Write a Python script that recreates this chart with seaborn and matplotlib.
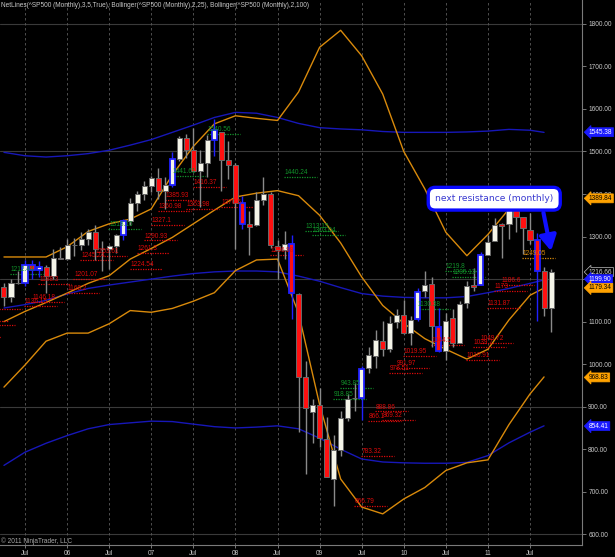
import numpy as np
import pandas as pd
import matplotlib
matplotlib.use('Agg')
import matplotlib.pyplot as plt
import matplotlib.transforms as mtransforms
import seaborn as sns

# monthly ^SP500 bars, Apr 2005 .. Oct 2011 (index 0 = Apr 2005)
aOpen = [1180.6, 1156.9, 1191.5, 1191.3, 1234.2, 1220.3, 1228.8, 1207.0, 1249.5,
         1248.3, 1280.1, 1280.7, 1294.9, 1310.6, 1270.1, 1270.2, 1276.7, 1303.8, 1335.9, 1377.9, 1400.6,
         1418.3, 1438.2, 1406.8, 1420.9, 1482.4, 1530.6, 1503.4, 1455.3, 1474.0, 1526.8, 1545.8, 1481.1,
         1468.4, 1378.6, 1330.5, 1326.4, 1386.0, 1399.6, 1276.7, 1269.4, 1282.8, 1164.2, 968.7, 888.6,
         903.0, 823.1, 729.6, 797.9, 872.7, 919.9, 920.8, 990.2, 1019.5, 1054.9, 1036.2, 1098.9,
         1116.6, 1073.9, 1105.4, 1171.2, 1188.6, 1087.3, 1031.1, 1107.5, 1049.7, 1143.5, 1185.7, 1186.6,
         1257.6, 1289.1, 1328.6, 1329.5, 1365.2, 1345.2, 1315.9, 1292.6, 1219.1, 1131.2]
aHigh = [1191.9, 1199.6, 1219.6, 1245.2, 1245.9, 1243.1, 1233.3, 1270.6, 1275.8,
         1294.9, 1297.6, 1310.9, 1318.2, 1326.7, 1290.7, 1280.4, 1306.7, 1340.3, 1389.5, 1407.9, 1431.8,
         1441.6, 1461.6, 1438.9, 1498.0, 1535.6, 1540.6, 1555.9, 1503.9, 1538.7, 1576.1, 1545.8, 1523.6,
         1471.8, 1396.0, 1359.7, 1404.0, 1440.2, 1404.1, 1292.2, 1313.2, 1303.0, 1167.0, 1007.5, 918.9,
         943.9, 875.0, 833.0, 888.7, 930.2, 956.2, 996.7, 1039.5, 1080.2, 1101.4, 1113.7, 1130.4,
         1150.5, 1112.4, 1180.2, 1219.8, 1205.1, 1131.2, 1121.0, 1129.2, 1148.9, 1196.1, 1227.1, 1262.6,
         1302.7, 1344.1, 1332.3, 1370.6, 1370.6, 1345.2, 1356.5, 1307.4, 1229.3, 1224.0]
aLow = [1136.2, 1146.2, 1188.3, 1183.6, 1201.1, 1205.4, 1168.2, 1201.1, 1246.6,
        1245.7, 1253.6, 1268.0, 1280.7, 1245.3, 1219.3, 1224.5, 1261.3, 1290.9, 1327.1, 1361.0, 1385.9,
        1404.0, 1389.4, 1364.0, 1416.4, 1476.7, 1484.2, 1454.3, 1370.6, 1439.3, 1489.6, 1406.1, 1435.7,
        1270.1, 1316.8, 1257.0, 1324.4, 1373.1, 1272.0, 1200.4, 1247.5, 1106.4, 839.8, 741.0, 815.7,
        804.2, 734.5, 666.8, 783.3, 866.1, 888.9, 869.3, 978.5, 992.0, 1020.0, 1029.4, 1085.9,
        1071.6, 1044.5, 1101.4, 1157.0, 1040.8, 1028.3, 1010.9, 1039.7, 1049.7, 1131.9, 1173.0, 1186.6,
        1257.6, 1289.1, 1249.1, 1294.7, 1311.8, 1258.1, 1282.9, 1101.5, 1114.2, 1074.8]
aClose = [1156.9, 1191.5, 1191.3, 1234.2, 1220.3, 1228.8, 1207.0, 1249.5, 1248.3,
          1280.1, 1280.7, 1294.9, 1310.6, 1270.1, 1270.2, 1276.7, 1303.8, 1335.9, 1377.9, 1400.6, 1418.3,
          1438.2, 1406.8, 1420.9, 1482.4, 1530.6, 1503.4, 1455.3, 1474.0, 1526.8, 1549.4, 1481.1, 1468.4,
          1378.6, 1330.6, 1322.7, 1385.6, 1400.4, 1280.0, 1267.4, 1282.8, 1166.4, 968.8, 896.2, 903.3,
          825.9, 735.1, 797.9, 872.8, 919.1, 919.3, 987.5, 1020.6, 1057.1, 1036.2, 1095.6, 1115.1,
          1073.9, 1104.5, 1169.4, 1186.7, 1089.4, 1030.7, 1101.6, 1049.3, 1141.2, 1183.3, 1180.6, 1257.6,
          1286.1, 1327.2, 1325.8, 1363.6, 1345.2, 1320.6, 1292.3, 1219.0, 1131.4, 1216.7]
# bars drawn with a blue outline
aFlagged = [3, 4, 5, 17, 24, 30, 34, 41, 51, 59, 62, 68, 76]

# Bollinger bands
aBand_index = list(range(0, 76, 3)) + [77]
aBB100_upper = [1498, 1490, 1487, 1490, 1495, 1503, 1515, 1528, 1545, 1562, 1580, 1592, 1590, 1580,
                1566, 1556, 1553, 1551, 1547, 1545, 1545, 1545, 1546, 1548, 1552, 1550, 1545]
aBB100_middle = [1132, 1140, 1150, 1165, 1178, 1186, 1193, 1200, 1207, 1213, 1217, 1219, 1219, 1217,
                 1207, 1195, 1180, 1166, 1160, 1157, 1156, 1156, 1159, 1168, 1178, 1190, 1198]
aBB100_lower = [762, 793, 814, 832, 848, 858, 862, 866, 865, 859, 853, 850, 852, 855,
                848, 826, 800, 777, 770, 768, 767, 767, 769, 785, 815, 840, 855]
aBB25_upper = [1252, 1252, 1252, 1276, 1312, 1330, 1341, 1365, 1445, 1512, 1565, 1584, 1578, 1573,
               1640, 1745, 1785, 1725, 1635, 1500, 1412, 1310, 1255, 1305, 1365, 1385, 1390]
aBB25_middle = [1100, 1124, 1145, 1167, 1190, 1208, 1247, 1272, 1298, 1330, 1362, 1393, 1402, 1408,
                1396, 1350, 1285, 1205, 1138, 1096, 1060, 1035, 1012, 1035, 1104, 1162, 1179]
aBB25_lower = [946, 998, 1054, 1073, 1073, 1095, 1126, 1122, 1131, 1148, 1168, 1220, 1245, 1247,
               1120, 905, 730, 664, 648, 683, 710, 750, 768, 775, 858, 930, 970]

# NetLines: bar of the pivot and its price
aSupport_origin = [-8, -7, -6, -5, 0, 1, 2, 6, 7, 8, 10, 15, 16, 17, 18, 19, 20, 23, 24, 28, 35,
                   47, 48, 49, 50, 51, 52, 53, 54, 58, 63, 64, 65, 66, 67, 68]
aSupport_value = [1063, 1101, 1091, 1130, 1136.15, 1146.18, 1188.3, 1168.2, 1201.07, 1245.74, 1253.61,
                  1224.54, 1261.3, 1290.93, 1327.1, 1360.98, 1385.93, 1363.98, 1416.37, 1370.6, 1256.98,
                  666.79, 783.32, 866.1, 888.86, 869.32, 978.51, 991.97, 1019.95, 1044.5, 1010.91,
                  1039.7, 1049.72, 1131.87, 1173, 1186.6]
aResist_origin = [-2, 12, 21, 26, 37, 40, 41, 44, 45, 56, 60, 61]
aResist_value = [1212.44, 1318.16, 1441.61, 1540.56, 1440.24, 1313.15, 1303.04, 918.85, 943.85,
                 1130.38, 1219.8, 1205.13]
aActive_origin = [71]
aActive_value = [1249.05]

# right axis price markers
aMarker_value = [1545.38, 1389.84, 1216.66, 1199.90, 1179.34, 968.83, 854.41]
aMarker_kind = ['bb100', 'bb25', 'close', 'bb100', 'bb25', 'bb25', 'bb100']

aTick_index = list(range(3, 76, 6))
aTick_label = ['Jul', '06', 'Jul', '07', 'Jul', '08', 'Jul', '09', 'Jul', '10', 'Jul', '11', 'Jul']
aGrid_level = [600, 900, 1200, 1500, 1800]

sns.set_theme(style='dark', rc={'axes.facecolor': 'black', 'figure.facecolor': 'black'})
plt.rcParams['font.family'] = ['Liberation Sans', 'DejaVu Sans']

sColor_orange = '#d98a0b'
sColor_blue = '#1717b8'
sColor_red = '#dd0a0a'
sColor_green = '#11922a'
small = 4.7

fig = plt.figure(figsize=(6.15, 5.57), dpi=100)
fig.patch.set_facecolor('black')
ax = fig.add_axes([0, 12 / 557, 582 / 615, 545 / 557])
ax.set_facecolor('black')

nBar = len(aClose)
aIndex = np.arange(nBar)

# grid
for level in aGrid_level:
    ax.axhline(level, color='#3a3a3a', lw=0.8, zorder=0)
for i in aTick_index:
    ax.axvline(i, color='#5a5a5a', lw=0.6, ls=(0, (3, 3)), zorder=0)

# bollinger bands
df_band = pd.DataFrame({'bar': aBand_index,
                        'u100': aBB100_upper, 'm100': aBB100_middle, 'l100': aBB100_lower,
                        'u25': aBB25_upper, 'm25': aBB25_middle, 'l25': aBB25_lower})
for col in ['u100', 'm100', 'l100']:
    sns.lineplot(data=df_band, x='bar', y=col, color=sColor_blue, lw=1.0, ax=ax, zorder=2)
for col in ['u25', 'm25', 'l25']:
    sns.lineplot(data=df_band, x='bar', y=col, color=sColor_orange, lw=1.0, ax=ax, zorder=2)

# netlines (start 3 bars after the pivot, 5 bars long)
def draw_netlines(aOrigin, aValue, sColor):
    for o, v in zip(aOrigin, aValue):
        x0 = o + 3
        ax.hlines(v, x0 - 0.1, x0 + 4.6, colors=sColor, lw=0.9, linestyles=(0, (1, 1)), zorder=3)
        if x0 >= 0:  # labels of older pivots sit left of the chart
            ax.text(x0, v + 2, '%g' % v, color=sColor, fontsize=small, ha='left', va='bottom',
                    zorder=6, clip_on=True)

draw_netlines(aSupport_origin, aSupport_value, sColor_red)
draw_netlines(aResist_origin, aResist_value, sColor_green)
draw_netlines(aActive_origin, aActive_value, sColor_orange)

# candles
aOpen_a = np.array(aOpen)
aClose_a = np.array(aClose)
aBottom = np.minimum(aOpen_a, aClose_a)
aHeight = np.abs(aClose_a - aOpen_a)
aFill = np.where(aClose_a >= aOpen_a, '#f4f4e8', '#ff1010')
aEdge = np.array(['#6a6a6a'] * nBar, dtype=object)
aWick = np.array(['#8a8a8a'] * nBar, dtype=object)
aWidth = np.full(nBar, 0.7)
for i in aFlagged:
    aEdge[i] = '#2020ff'
    aWick[i] = '#2020ff'
    aWidth[i] = 1.3
ax.vlines(aIndex, aLow, aHigh, colors=list(aWick), lw=1.0, zorder=4)
ax.bar(aIndex, aHeight, bottom=aBottom, width=0.72, color=list(aFill),
       edgecolor=list(aEdge), linewidth=list(aWidth), zorder=5)

ax.set_xlim(-0.565, 82.41)
ax.set_ylim(574.8, 1856.2)

# axes, ticks
ax.yaxis.tick_right()
ax.set_yticks(range(600, 1801, 100))
ax.set_yticklabels(['%.2f' % v for v in range(600, 1801, 100)])
ax.set_xticks(aTick_index)
ax.set_xticklabels(aTick_label)
ax.tick_params(axis='y', right=True, left=False, colors='#8a8a8a', labelcolor='#c8c8c8',
               labelsize=small, length=3, width=0.6, pad=1.5)
ax.tick_params(axis='x', bottom=True, colors='#8a8a8a', labelcolor='#c8c8c8',
               labelsize=small, length=2, width=0.6, pad=1.5)
ax.set_xlabel('')
ax.set_ylabel('')
ax.grid(False)
for side in ['top', 'left']:
    ax.spines[side].set_visible(False)
for side in ['right', 'bottom']:
    ax.spines[side].set_visible(True)
    ax.spines[side].set_color('#7a7a7a')
    ax.spines[side].set_linewidth(0.8)

# price markers on the right axis
trans = mtransforms.blended_transform_factory(ax.transAxes, ax.transData)
dMarker = {'bb100': ('#1a1aff', '#1a1aff', 'white'),
           'bb25': ('#ffa200', '#ffa200', 'black'),
           'close': ('black', '#c0c0c0', '#d0d0d0')}
for v, kind in zip(aMarker_value, aMarker_kind):
    fc, ec, tc = dMarker[kind]
    ax.text(1.012, v, '%.2f' % v, transform=trans, fontsize=small, color=tc, ha='left', va='center',
            clip_on=False, zorder=8,
            bbox=dict(boxstyle='larrow,pad=0.15', fc=fc, ec=ec, lw=0.5))

# header and copyright
ax.text(0.002, 0.997, 'NetLines(^SP500 (Monthly),3,5,True), Bollinger(^SP500 (Monthly),2,25), '
        'Bollinger(^SP500 (Monthly),2,100)', transform=ax.transAxes, color='#c8c8c8',
        fontsize=small, ha='left', va='top')
fig.text(0.002, 16 / 557, '\u00a9 2011 NinjaTrader, LLC', color='#a8a8a8', fontsize=small,
         ha='left', va='center')

# annotation
ax.annotate('next resistance (monthly)', xy=(78.0, 1266), xytext=(69.9, 1389),
            fontsize=6.6, color='#3838d0', ha='center', va='center', family='DejaVu Sans',
            bbox=dict(boxstyle='round,pad=0.75', fc='white', ec='#0a0aff', lw=2.4),
            arrowprops=dict(arrowstyle='-|>,head_length=0.9,head_width=0.5', color='#1010ff',
                            lw=3, relpos=(0.9, 0.0), shrinkA=1, shrinkB=0, mutation_scale=10),
            zorder=9)

plt.savefig('out.png', dpi=100, facecolor='black')
